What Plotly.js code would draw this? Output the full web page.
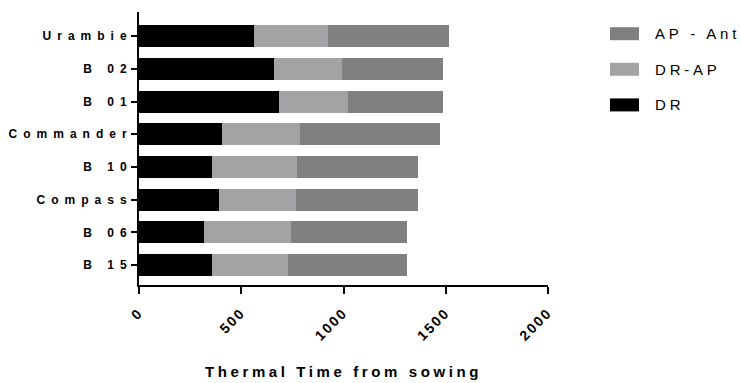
<!DOCTYPE html>
<html><head><meta charset="utf-8">
<script src="https://cdn.plot.ly/plotly-3.0.1.min.js"></script>
<style>
html,body{margin:0;padding:0;background:#fff;}
#chart{width:741px;height:383px;}
.yaxislayer-above text{letter-spacing:6px;}
.xaxislayer-above text{letter-spacing:2px;}
.g-xtitle text{letter-spacing:3.6px;}
.annotation-text{letter-spacing:3.8px;}
</style></head>
<body><div id="chart"></div>
<script>
// Categories top-to-bottom
const categories = ["Urambie", "B 02", "B 01", "Commander", "B 10", "Compass", "B 06", "B 15"];
const seriesNames = ["DR", "DR-AP", "AP - Ant"];
const DR     = [562, 661, 684, 407, 359, 390, 320, 359];
const DR_AP  = [360, 330, 340, 380, 412, 376, 425, 372];
const AP_Ant = [596, 495, 462, 686, 594, 599, 564, 578];
const xTickVals = [0, 500, 1000, 1500, 2000];
const xTickText = ["0", "500", "1000", "1500", "2000"];

const colors = ["#000000", "#a3a3a6", "#808080"];
const values = [DR, DR_AP, AP_Ant];

const traces = values.map((v, i) => ({
  type: "bar", orientation: "h",
  y: categories, x: v, name: seriesNames[i],
  marker: {color: colors[i], line: {width: 0}},
  width: 0.67, showlegend: false
}));

// custom legend (reverse order, like the reference: AP - Ant on top)
const shapes = [], annotations = [];
const legOrder = [2, 1, 0];
const plotH = 273, plotW = 409;
legOrder.forEach((si, k) => {
  const cy = (285 - (33.7 + k * 35.6)) / plotH;
  const hh = 6.5 / plotH;
  shapes.push({type: "rect", xref: "paper", yref: "paper",
    x0: (610 - 139) / plotW, x1: (639 - 139) / plotW, y0: cy - hh, y1: cy + hh,
    fillcolor: colors[si], line: {width: 0}});
  annotations.push({xref: "paper", yref: "paper", x: (653 - 139) / plotW, y: cy,
    xanchor: "left", yanchor: "middle", showarrow: false, text: seriesNames[si],
    font: {family: "Liberation Sans, Arial, sans-serif", size: 15, color: "#000"}});
});

const layout = {
  width: 741, height: 383,
  margin: {l: 139, r: 193, t: 12, b: 98},
  paper_bgcolor: "#fff", plot_bgcolor: "#fff",
  barmode: "stack",
  showlegend: false,
  font: {family: "Liberation Sans, Arial, sans-serif", color: "#000"},
  xaxis: {
    range: [0, 2000], tickvals: xTickVals, ticktext: xTickText,
    tickangle: -45, showgrid: false, zeroline: false,
    showline: true, linecolor: "#000", linewidth: 2,
    ticks: "outside", ticklen: 7, tickwidth: 2, tickcolor: "#000",
    ticklabelstandoff: 5,
    tickfont: {size: 14, weight: "bold"},
    title: {text: "Thermal Time from sowing", font: {size: 15, weight: "bold"}, standoff: 30},
    automargin: false, fixedrange: true
  },
  yaxis: {
    type: "category", categoryorder: "array", categoryarray: categories,
    range: [7.61, -0.74],
    showgrid: false, zeroline: false,
    showline: true, linecolor: "#000", linewidth: 2,
    ticks: "outside", ticklen: 6, tickwidth: 2, tickcolor: "#000",
    ticklabelstandoff: -4,
    tickfont: {size: 12, weight: "bold"},
    automargin: false, fixedrange: true
  },
  shapes: shapes, annotations: annotations
};

Plotly.newPlot("chart", traces, layout, {displayModeBar: false, staticPlot: true});
</script>
</body></html>
